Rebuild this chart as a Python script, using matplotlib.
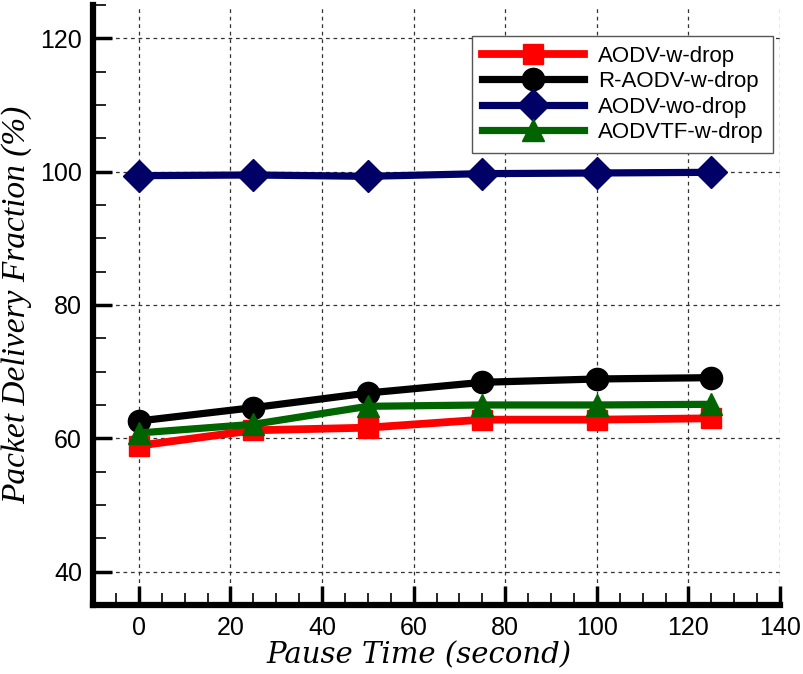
import matplotlib.pyplot as plt
from matplotlib.ticker import MultipleLocator

# Pause time (s)
pause = [0, 25, 50, 75, 100, 125]

# Packet delivery fraction (%) per protocol
aodv_w_drop = [58.9, 61.2, 61.6, 62.8, 62.8, 63.0]
raodv_w_drop = [62.6, 64.6, 66.8, 68.4, 68.9, 69.1]
aodv_wo_drop = [99.4, 99.5, 99.3, 99.7, 99.8, 99.9]
aodvtf_w_drop = [60.8, 62.1, 64.8, 65.0, 65.0, 65.1]

fig = plt.figure(figsize=(8.04, 6.74), dpi=100)
ax = fig.add_axes([0.1157, 0.1024, 0.8545, 0.8902])

lw = 5.2
ax.plot(pause, aodv_w_drop, color='#ff0000', lw=lw + 0.4, marker='s', ms=14, label='AODV-w-drop')
ax.plot(pause, raodv_w_drop, color='black', lw=lw, marker='o', ms=16, label='R-AODV-w-drop')
ax.plot(pause, aodv_wo_drop, color='#000066', lw=lw, marker='D', ms=16, label='AODV-wo-drop')
ax.plot(pause, aodvtf_w_drop, color='#006400', lw=lw, marker='^', ms=16, label='AODVTF-w-drop')

ax.set_xlim(-10, 140)
ax.set_ylim(35, 125)
ax.xaxis.set_major_locator(MultipleLocator(20))
ax.xaxis.set_minor_locator(MultipleLocator(5))
ax.yaxis.set_major_locator(MultipleLocator(20))
ax.yaxis.set_minor_locator(MultipleLocator(5))
ax.set_yticks([40, 60, 80, 100, 120])

ax.grid(True, which='major', color='#333333', ls=(0, (3, 3)), lw=0.9)
ax.set_axisbelow(True)

for s in ['top', 'right']:
    ax.spines[s].set_visible(False)
for s in ['left', 'bottom']:
    ax.spines[s].set_linewidth(4.5)

ax.tick_params(which='major', direction='in', length=14, width=2.5, labelsize=18, pad=8)
ax.tick_params(which='minor', direction='in', length=9, width=1.2)
for lab in ax.get_xticklabels() + ax.get_yticklabels():
    lab.set_family('Liberation Sans')

ax.set_xlabel('Pause Time (second)', family='DejaVu Serif', style='italic', fontsize=21, labelpad=1)
ax.xaxis.label.set_x(0.4745)
ax.set_ylabel('Packet Delivery Fraction (%)', family='Liberation Serif', style='italic', fontsize=24, labelpad=6)

leg = ax.legend(loc='upper right', bbox_to_anchor=(1.0, 0.96), numpoints=1, handlelength=4.6,
                prop={'family': 'Liberation Sans', 'size': 16}, fancybox=False, framealpha=1,
                edgecolor='#555555', borderpad=0.45, labelspacing=0.2, handletextpad=0.6,
                borderaxespad=0.3)
leg.get_frame().set_linewidth(1.0)

fig.savefig('out.png', dpi=100)
